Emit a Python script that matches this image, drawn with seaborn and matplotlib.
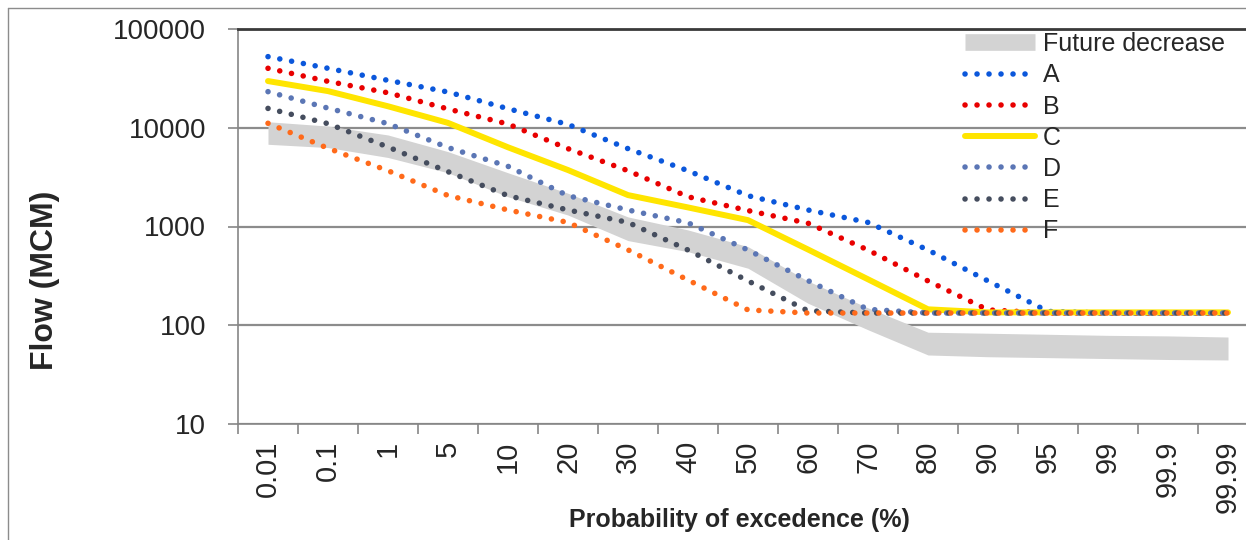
# Flow duration curves ====

import matplotlib
matplotlib.use("Agg")
import matplotlib.pyplot as plt
import matplotlib.lines as mlines
import numpy as np
import pandas as pd
import seaborn as sns


# Data ====

categories = ["0.01", "0.1", "1", "5", "10", "20", "30", "40", "50",
              "60", "70", "80", "90", "95", "99", "99.9", "99.99"]

flow_a = [52500, 40000, 30200, 23000, 15600, 10800, 6140, 3670, 2050,
          1470, 1100, 578, 281, 138, 133, 133, 133]
flow_b = [40000, 29500, 22600, 15500, 10900, 6140, 3670, 2000, 1450,
          1080, 578, 281, 143, 133, 133, 133, 133]
flow_c = [29700, 23500, 16500, 11200, 6340, 3730, 2080, 1560, 1160,
          585, 292, 145, 135, 135, 135, 135, 135]
flow_d = [23200, 15800, 11000, 6300, 4070, 2050, 1470, 1090, 578,
          283, 145, 133, 133, 133, 133, 133, 133]
flow_e = [15700, 11000, 6380, 3590, 2050, 1470, 1100, 578, 281,
          140, 133, 133, 133, 133, 133, 133, 133]
flow_f = [11100, 6200, 3670, 2060, 1470, 1100, 580, 287, 143,
          133, 133, 133, 133, 133, 133, 133, 133]

band_upper = [11500, 10400, 8450, 5730, 3500, 2170, 1250, 923, 625,
              280, 150, 85, 83, 81, 79, 78, 76]
band_lower = [6800, 6300, 5000, 3500, 2000, 1306, 720, 556, 378,
              167, 90, 50, 48, 47, 46, 45, 44.5]

series = {"A": flow_a, "B": flow_b, "C": flow_c,
          "D": flow_d, "E": flow_e, "F": flow_f}
colors = {"A": "#0B57DB", "B": "#E80000", "C": "#FFE500",
          "D": "#5B76B5", "E": "#454D5E", "F": "#FF6A1A"}

df = pd.DataFrame(series)
df["pos"] = np.arange(len(categories))


# Plot ====

sns.set_style("white")
plt.rcParams["font.family"] = ["Liberation Sans", "DejaVu Sans"]

fig = plt.figure(figsize=(12.46, 5.40), dpi=100)
ax = fig.add_axes([238 / 1246, 1 - 424 / 540, 1020 / 1246, 395 / 540])

band_color = "#D3D3D3"
ax.fill_between(df["pos"], band_lower, band_upper, color=band_color,
                linewidth=0, zorder=1)

dotted = (0, (0.01, 2.15))
handles = [mlines.Line2D([], [], color=band_color, linewidth=12,
                         solid_capstyle="butt", label="Future decrease")]
for name in series:
    if name == "C":
        style = dict(linestyle="-", linewidth=4.3, solid_capstyle="round")
    else:
        style = dict(linestyle=dotted, linewidth=4.0, dash_capstyle="round")
    sns.lineplot(data=df, x="pos", y=name, ax=ax, color=colors[name],
                 zorder=3, **style)
    handles.append(mlines.Line2D([], [], color=colors[name], label=name, **style))

ax.set_yscale("log")
ax.set_ylim(10, 100000)
ax.set_xlim(-0.5, len(categories) - 0.5)
ax.set_yticks([10, 100, 1000, 10000, 100000])
ax.set_yticklabels(["10", "100", "1000", "10000", "100000"])
ax.minorticks_off()

# tick marks between categories, labels at the centres
ax.set_xticks(np.arange(len(categories) + 1) - 0.5)
ax.set_xticklabels([])
ax.set_xticks(np.arange(len(categories)), minor=True)
ax.set_xticklabels(categories, minor=True, rotation=90, fontsize=21)
ax.tick_params(axis="x", which="major", length=7, width=1.2, color="#868686",
               direction="out", bottom=True)
ax.tick_params(axis="x", which="minor", length=0, pad=12, bottom=True)
ax.tick_params(axis="y", length=7, width=1.2, color="#868686", direction="out",
               left=True, pad=16, labelsize=20)

ax.grid(axis="y", color="#8C8C8C", linewidth=1.6, zorder=0)
ax.set_axisbelow(True)
for side in ["left", "bottom"]:
    ax.spines[side].set_color("#868686")
    ax.spines[side].set_linewidth(1.2)
ax.spines["top"].set_color("#3A3A3A")
ax.spines["top"].set_linewidth(2)
ax.spines["right"].set_visible(False)

ax.set_xlabel("")
ax.set_ylabel("")
fig.text(45 / 1246, 1 - 280 / 540, "Flow (MCM)", rotation=90, ha="center",
         va="center", fontsize=23, fontweight="bold")
fig.text(739 / 1246, 1 - 520 / 540, "Probability of excedence (%)", ha="center",
         va="center", fontsize=18, fontweight="bold")

fig.legend(handles=handles, loc="upper left",
           bbox_to_anchor=(965 / 1246, 1 - 32 / 540), frameon=False,
           fontsize=18, handlelength=2.8, handletextpad=0.32,
           labelspacing=0.29, borderpad=0, borderaxespad=0)

# thin frame round the figure
fig.add_artist(mlines.Line2D([8 / 1246, 8 / 1246], [0, 1 - 8 / 540],
                             transform=fig.transFigure, color="#8C8C8C", linewidth=1))
fig.add_artist(mlines.Line2D([8 / 1246, 1], [1 - 8 / 540, 1 - 8 / 540],
                             transform=fig.transFigure, color="#8C8C8C", linewidth=1))

fig.savefig("out.png", dpi=100)
